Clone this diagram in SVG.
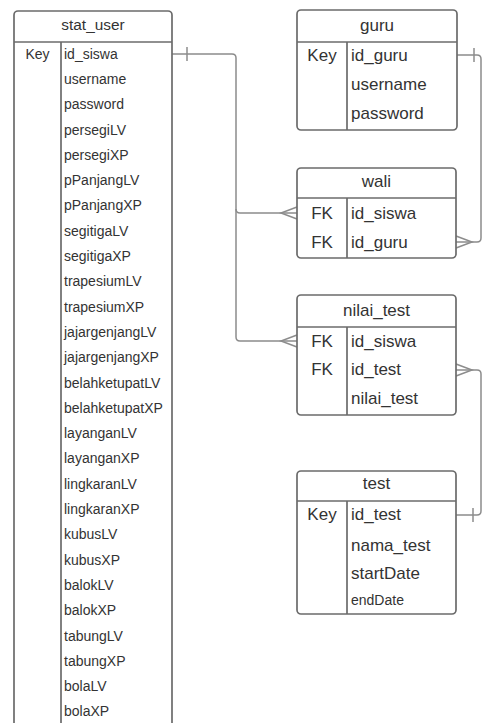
<svg xmlns="http://www.w3.org/2000/svg" width="483" height="723" viewBox="0 0 483 723">
  <style>
    .box { fill: #ffffff; stroke: #6b6b6b; stroke-width: 1.7; }
    .sep { stroke: #6b6b6b; stroke-width: 1.7; fill: none; }
    .t { font-family: "Liberation Sans", Arial, sans-serif; fill: #333333; }
    .hd { text-anchor: middle; font-size: 17px; }
    .f { font-size: 17px; }
    .k { font-size: 17px; text-anchor: middle; }
    .sf { font-size: 14px; }
    .sk { font-size: 14px; text-anchor: middle; }
    .sh { font-size: 15.4px; text-anchor: middle; }
    .ln { fill: none; stroke: #8c8c8c; stroke-width: 1.5; }
  </style>
  <rect width="483" height="723" fill="#ffffff"/>

  <!-- relationships -->
  <g id="connectors">
    <!-- stat_user.id_siswa to wali.id_siswa -->
    <path class="ln" d="M172,54 H232 Q236,54 236,58 V209 Q236,213 240,213 H297"/>
    <!-- stat_user.id_siswa to nilai_test.id_siswa -->
    <path class="ln" d="M236,209 V337 Q236,341 240,341 H297"/>
    <line class="ln" x1="187" y1="47" x2="187" y2="61"/>
    <path class="ln" d="M297,207 L281,213 L297,219"/>
    <path class="ln" d="M297,335 L281,341 L297,347"/>
    <!-- guru.id_guru to wali.id_guru -->
    <path class="ln" d="M457,55 H477 Q481,55 481,59 V238 Q481,242 477,242 H456"/>
    <line class="ln" x1="474" y1="48" x2="474" y2="62"/>
    <path class="ln" d="M456,236 L472,242 L456,248"/>
    <!-- test.id_test to nilai_test.id_test -->
    <path class="ln" d="M456,515 H477 Q481,515 481,511 V374 Q481,370 477,370 H456"/>
    <line class="ln" x1="473" y1="508" x2="473" y2="522"/>
    <path class="ln" d="M456,364 L472,370 L456,376"/>
  </g>

  <!-- stat_user -->
  <g id="stat_user">
    <rect class="box" x="14" y="11" width="158" height="730" rx="4"/>
    <line class="sep" x1="14" y1="42" x2="172" y2="42"/>
    <line class="sep" x1="61" y1="42" x2="61" y2="741"/>
    <text class="t sh" x="93" y="30">stat_user</text>
    <text class="t sk" x="37.5" y="58.6">Key</text>
    <g class="t sf">
      <text x="64" y="58.6">id_siswa</text>
      <text x="64" y="83.9">username</text>
      <text x="64" y="109.2">password</text>
      <text x="64" y="134.5">persegiLV</text>
      <text x="64" y="159.8">persegiXP</text>
      <text x="64" y="185.1">pPanjangLV</text>
      <text x="64" y="210.4">pPanjangXP</text>
      <text x="64" y="235.7">segitigaLV</text>
      <text x="64" y="261">segitigaXP</text>
      <text x="64" y="286.3">trapesiumLV</text>
      <text x="64" y="311.6">trapesiumXP</text>
      <text x="64" y="336.9">jajargenjangLV</text>
      <text x="64" y="362.2">jajargenjangXP</text>
      <text x="64" y="387.5">belahketupatLV</text>
      <text x="64" y="412.8">belahketupatXP</text>
      <text x="64" y="438.1">layanganLV</text>
      <text x="64" y="463.4">layanganXP</text>
      <text x="64" y="488.7">lingkaranLV</text>
      <text x="64" y="514">lingkaranXP</text>
      <text x="64" y="539.3">kubusLV</text>
      <text x="64" y="564.6">kubusXP</text>
      <text x="64" y="589.9">balokLV</text>
      <text x="64" y="615.2">balokXP</text>
      <text x="64" y="640.5">tabungLV</text>
      <text x="64" y="665.8">tabungXP</text>
      <text x="64" y="691.1">bolaLV</text>
      <text x="64" y="716.4">bolaXP</text>
    </g>
  </g>

  <!-- guru -->
  <g id="guru">
    <rect class="box" x="297" y="10" width="160" height="120" rx="4"/>
    <line class="sep" x1="297" y1="42" x2="457" y2="42"/>
    <line class="sep" x1="347" y1="42" x2="347" y2="130"/>
    <text class="t hd" x="377" y="31">guru</text>
    <text class="t k" x="322" y="61">Key</text>
    <text class="t f" x="351" y="61">id_guru</text>
    <text class="t f" x="351" y="90">username</text>
    <text class="t f" x="351" y="119">password</text>
  </g>

  <!-- wali -->
  <g id="wali">
    <rect class="box" x="297" y="168" width="159" height="90" rx="4"/>
    <line class="sep" x1="297" y1="198" x2="456" y2="198"/>
    <line class="sep" x1="347" y1="198" x2="347" y2="258"/>
    <text class="t hd" x="376.5" y="187">wali</text>
    <text class="t k" x="322" y="219">FK</text>
    <text class="t f" x="351" y="219">id_siswa</text>
    <text class="t k" x="322" y="248">FK</text>
    <text class="t f" x="351" y="248">id_guru</text>
  </g>

  <!-- nilai_test -->
  <g id="nilai_test">
    <rect class="box" x="297" y="295" width="159" height="120" rx="4"/>
    <line class="sep" x1="297" y1="327" x2="456" y2="327"/>
    <line class="sep" x1="347" y1="327" x2="347" y2="415"/>
    <text class="t hd" x="376.5" y="316">nilai_test</text>
    <text class="t k" x="322" y="347">FK</text>
    <text class="t f" x="351" y="347">id_siswa</text>
    <text class="t k" x="322" y="375">FK</text>
    <text class="t f" x="351" y="375">id_test</text>
    <text class="t f" x="351" y="404">nilai_test</text>
  </g>

  <!-- test -->
  <g id="test">
    <rect class="box" x="297" y="471" width="159" height="143" rx="4"/>
    <line class="sep" x1="297" y1="501" x2="456" y2="501"/>
    <line class="sep" x1="347" y1="501" x2="347" y2="614"/>
    <text class="t hd" x="376.5" y="489">test</text>
    <text class="t k" x="322" y="520">Key</text>
    <text class="t f" x="351" y="520">id_test</text>
    <text class="t f" x="351" y="551">nama_test</text>
    <text class="t f" x="351" y="579">startDate</text>
    <text class="t sf" x="351" y="605">endDate</text>
  </g>
</svg>
